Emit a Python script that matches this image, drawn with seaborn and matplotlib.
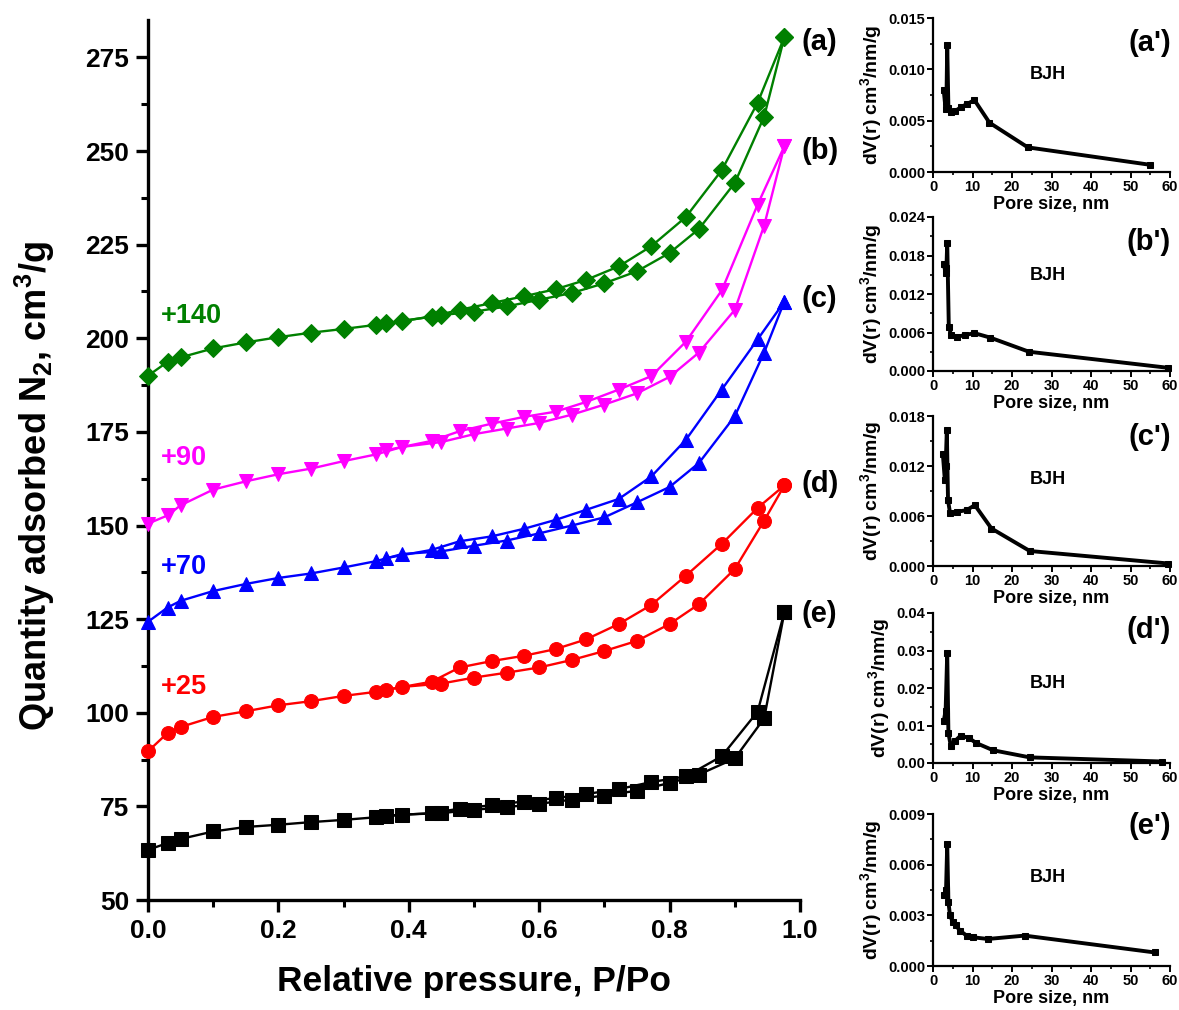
import numpy as np
import pandas as pd
import matplotlib
matplotlib.use("Agg")
import matplotlib.pyplot as plt
from matplotlib.ticker import MultipleLocator, FormatStrFormatter
import seaborn as sns

# ---------------- data: main isotherms ----------------
P_ads = [0.0, 0.03, 0.05, 0.10, 0.15, 0.20, 0.25, 0.30, 0.35, 0.39, 0.45, 0.50,
         0.55, 0.60, 0.65, 0.70, 0.75, 0.80, 0.845, 0.90, 0.945, 0.976]
P_des = [0.976, 0.935, 0.88, 0.825, 0.772, 0.722, 0.672, 0.625, 0.576, 0.527,
         0.478, 0.435, 0.365]

a_ads = [190.0, 193.7, 194.9, 197.3, 198.9, 200.3, 201.5, 202.5, 203.6, 204.6, 206.2,
         207.1, 208.5, 210.3, 212.1, 214.7, 217.9, 222.8, 229.2, 241.5, 259.2, 280.4]
a_des = [280.4, 262.9, 244.9, 232.4, 224.6, 219.2, 215.6, 213.1, 211.2, 209.4, 207.6,
         205.8, 204.0]
b_ads = [150.5, 152.7, 155.4, 159.6, 161.8, 163.7, 165.2, 167.2, 169.0, 171.0, 172.3,
         174.4, 175.9, 177.4, 179.6, 182.3, 185.3, 189.7, 196.2, 207.6, 230.1, 251.3]
b_des = [251.3, 235.7, 212.8, 199.1, 189.9, 186.3, 183.0, 180.4, 179.0, 177.2, 175.2,
         172.6, 170.1]
c_ads = [124.3, 128.1, 129.9, 132.5, 134.4, 136.0, 137.2, 138.8, 140.5, 142.4, 143.1,
         144.6, 146.0, 147.9, 150.0, 152.2, 156.2, 160.3, 166.7, 179.2, 196.2, 209.8]
c_des = [209.8, 199.7, 186.3, 172.9, 163.1, 157.1, 154.2, 151.5, 149.1, 147.1, 145.8,
         143.5, 141.3]
d_ads = [89.7, 94.6, 96.2, 98.9, 100.4, 102.0, 103.1, 104.5, 105.6, 106.9, 107.8,
         109.4, 110.7, 112.1, 114.1, 116.5, 119.2, 123.7, 129.0, 138.4, 151.3, 160.7]
d_des = [160.7, 154.7, 145.1, 136.6, 128.8, 123.7, 119.6, 117.0, 115.2, 113.8, 112.1,
         108.3, 106.1]
e_ads = [63.4, 65.2, 66.3, 68.3, 69.5, 70.1, 70.8, 71.4, 72.1, 72.8, 73.2, 74.1,
         74.8, 75.7, 76.8, 77.9, 79.2, 81.25, 83.5, 87.8, 98.5, 126.8]
e_des = [126.8, 100.3, 88.4, 83.0, 81.5, 79.6, 78.3, 77.2, 76.3, 75.3, 74.4, 73.2, 72.5]

series_labels = ["(a)", "(b)", "(c)", "(d)", "(e)"]
offset_labels = ["+140", "+90", "+70", "+25", None]
label_y = [279, 250, 210.5, 161, 126.5]
offset_y = [206, 168, 139, 107, None]

# ---------------- data: BJH insets ----------------
pa = [2.7, 3.2, 3.4, 3.6, 3.9, 4.5, 5.5, 7.0, 8.5, 10.5, 14.3, 24.0, 55.0]
va = [0.0080, 0.0061, 0.0068, 0.0124, 0.0062, 0.0058, 0.0059, 0.0063, 0.0066,
      0.0070, 0.0048, 0.0024, 0.0007]
pb = [2.7, 3.2, 3.4, 3.6, 4.0, 4.6, 6.0, 8.0, 10.5, 14.5, 24.3, 59.5]
vb = [0.0167, 0.0153, 0.0160, 0.0200, 0.0069, 0.0056, 0.0053, 0.0056, 0.0059,
      0.0052, 0.0030, 0.0005]
pc = [2.5, 3.0, 3.2, 3.5, 3.8, 4.3, 6.0, 8.5, 10.6, 14.8, 24.5, 59.6]
vc = [0.0134, 0.0103, 0.0120, 0.0163, 0.0079, 0.0064, 0.0065, 0.0067, 0.0073,
      0.0045, 0.0018, 0.0003]
pd_ = [2.7, 3.2, 3.6, 3.9, 4.5, 5.5, 7.0, 9.0, 11.0, 15.2, 24.5, 58.0]
vd = [0.0111, 0.0140, 0.0293, 0.0080, 0.0046, 0.0058, 0.0073, 0.0067, 0.0053,
      0.0034, 0.0015, 0.0004]
pe = [2.7, 3.3, 3.6, 3.9, 4.3, 5.0, 5.8, 6.8, 8.5, 10.1, 13.9, 23.2, 56.2]
ve = [0.0042, 0.0045, 0.0072, 0.0038, 0.0030, 0.0026, 0.0024, 0.0021, 0.0018,
      0.0017, 0.0016, 0.0018, 0.0008]

inset_labels = ["(a')", "(b')", "(c')", "(d')", "(e')"]
inset_ymax = [0.015, 0.024, 0.018, 0.04, 0.009]
inset_ystep = [0.005, 0.006, 0.006, 0.01, 0.003]
inset_fmt = ["%.3f", "%.3f", "%.3f", "%.2f", "%.3f"]

# ---------------- style ----------------
sns.set_style("ticks")
plt.rcParams["font.family"] = ["Liberation Sans", "DejaVu Sans"]
plt.rcParams["font.weight"] = "bold"
plt.rcParams["axes.labelweight"] = "bold"
plt.rcParams["mathtext.fontset"] = "custom"
plt.rcParams["mathtext.rm"] = "Liberation Sans:bold"
plt.rcParams["mathtext.bf"] = "Liberation Sans:bold"
plt.rcParams["mathtext.default"] = "bf"
for key in ["text.color", "axes.labelcolor", "xtick.color", "ytick.color",
            "axes.edgecolor"]:
    plt.rcParams[key] = "black"

colors = ["#008000", "#FF00FF", "#0000FF", "#FF0000", "#000000"]
markers = ["D", "v", "^", "o", "s"]

W, H = 1179, 1010
fig = plt.figure(figsize=(W / 100, H / 100), dpi=100)

def px_axes(l, t, r, b):
    return fig.add_axes([l / W, 1 - b / H, (r - l) / W, (b - t) / H])

ax = px_axes(148, 20, 800, 900)

ads_list = [a_ads, b_ads, c_ads, d_ads, e_ads]
des_list = [a_des, b_des, c_des, d_des, e_des]
for i in range(5):
    df = pd.DataFrame({"P": list(P_ads) + list(P_des),
                       "Q": list(ads_list[i]) + list(des_list[i]),
                       "branch": ["ads"] * len(P_ads) + ["des"] * len(P_des)})
    for br in ["ads", "des"]:
        sub = df[df["branch"] == br]
        sns.lineplot(data=sub, x="P", y="Q", sort=False, ax=ax, color=colors[i],
                     marker=markers[i], markersize=10 if markers[i] != "D" else 9,
                     markeredgecolor=colors[i], linewidth=1.7, clip_on=False,
                     zorder=3, estimator=None)
    ax.text(1.002, label_y[i], series_labels[i], fontsize=21, fontweight="bold",
            ha="left", va="center", color="black", clip_on=False,
            transform=ax.get_yaxis_transform())
    if offset_labels[i]:
        ax.text(0.02, offset_y[i], offset_labels[i], fontsize=19.5, fontweight="bold",
                color=colors[i], ha="left", va="center")

ax.set_xlim(0, 1.0)
ax.set_ylim(50, 285)
ax.xaxis.set_major_locator(MultipleLocator(0.2))
ax.xaxis.set_minor_locator(MultipleLocator(0.1))
ax.xaxis.set_major_formatter(FormatStrFormatter("%.1f"))
ax.yaxis.set_major_locator(MultipleLocator(25))
ax.yaxis.set_minor_locator(MultipleLocator(12.5))
for s in ["top", "right"]:
    ax.spines[s].set_visible(False)
for s in ["left", "bottom"]:
    ax.spines[s].set_linewidth(2.4)
ax.tick_params(which="major", length=8.5, width=2.4, labelsize=19, pad=5,
               direction="out")
ax.tick_params(which="minor", length=5, width=2.2, direction="out")
for lab in ax.get_xticklabels() + ax.get_yticklabels():
    lab.set_fontweight("bold")
ax.set_xlabel("Relative pressure, P/Po", fontsize=25.5, fontweight="bold")
ax.set_ylabel("Quantity adsorbed N$_2$, cm$^3$/g", fontsize=26, fontweight="bold")
ax.xaxis.set_label_coords(0.5, -0.074)
ax.yaxis.set_label_coords(-0.14, 0.47)

# ---------------- insets ----------------
inset_boxes = [(933, 18, 1170, 172), (933, 217, 1170, 371), (933, 416, 1170, 566),
               (933, 613, 1170, 763), (933, 814, 1170, 966)]
label_pos = [0.84, 0.84, 0.86, 0.89, 0.92]
bjh_pos = [0.63, 0.62, 0.58, 0.53, 0.58]
pores = [pa, pb, pc, pd_, pe]
dvs = [va, vb, vc, vd, ve]
for i, box in enumerate(inset_boxes):
    iax = px_axes(*box)
    sns.lineplot(x=pores[i], y=dvs[i], sort=False, ax=iax, color="black",
                 marker="s", markersize=4.5, linewidth=2.8, markeredgecolor="black",
                 estimator=None, clip_on=False)
    iax.set_xlim(0, 60)
    iax.set_ylim(0, inset_ymax[i])
    iax.xaxis.set_major_locator(MultipleLocator(10))
    iax.xaxis.set_minor_locator(MultipleLocator(5))
    iax.yaxis.set_major_locator(MultipleLocator(inset_ystep[i]))
    iax.yaxis.set_minor_locator(MultipleLocator(inset_ystep[i] / 2))
    iax.yaxis.set_major_formatter(FormatStrFormatter(inset_fmt[i]))
    for s in ["top", "right"]:
        iax.spines[s].set_visible(False)
    for s in ["left", "bottom"]:
        iax.spines[s].set_linewidth(1.6)
    iax.tick_params(which="major", length=4, width=1.4, labelsize=10.5, pad=1.5,
                    direction="out")
    iax.tick_params(which="minor", length=2.5, width=1.2, direction="out")
    for lab in iax.get_xticklabels() + iax.get_yticklabels():
        lab.set_fontweight("bold")
    iax.set_xlabel("Pore size, nm", fontsize=13, fontweight="bold", labelpad=2)
    iax.set_ylabel("dV(r) cm$^3$/nm/g", fontsize=14, fontweight="bold",
                   labelpad=3)
    iax.text(1.005, label_pos[i], inset_labels[i], transform=iax.transAxes,
             fontsize=21, fontweight="bold", ha="right", va="center")
    iax.text(0.485, bjh_pos[i], "BJH", transform=iax.transAxes, fontsize=13,
             fontweight="bold", ha="center", va="center")

fig.savefig("out.png", dpi=100)
